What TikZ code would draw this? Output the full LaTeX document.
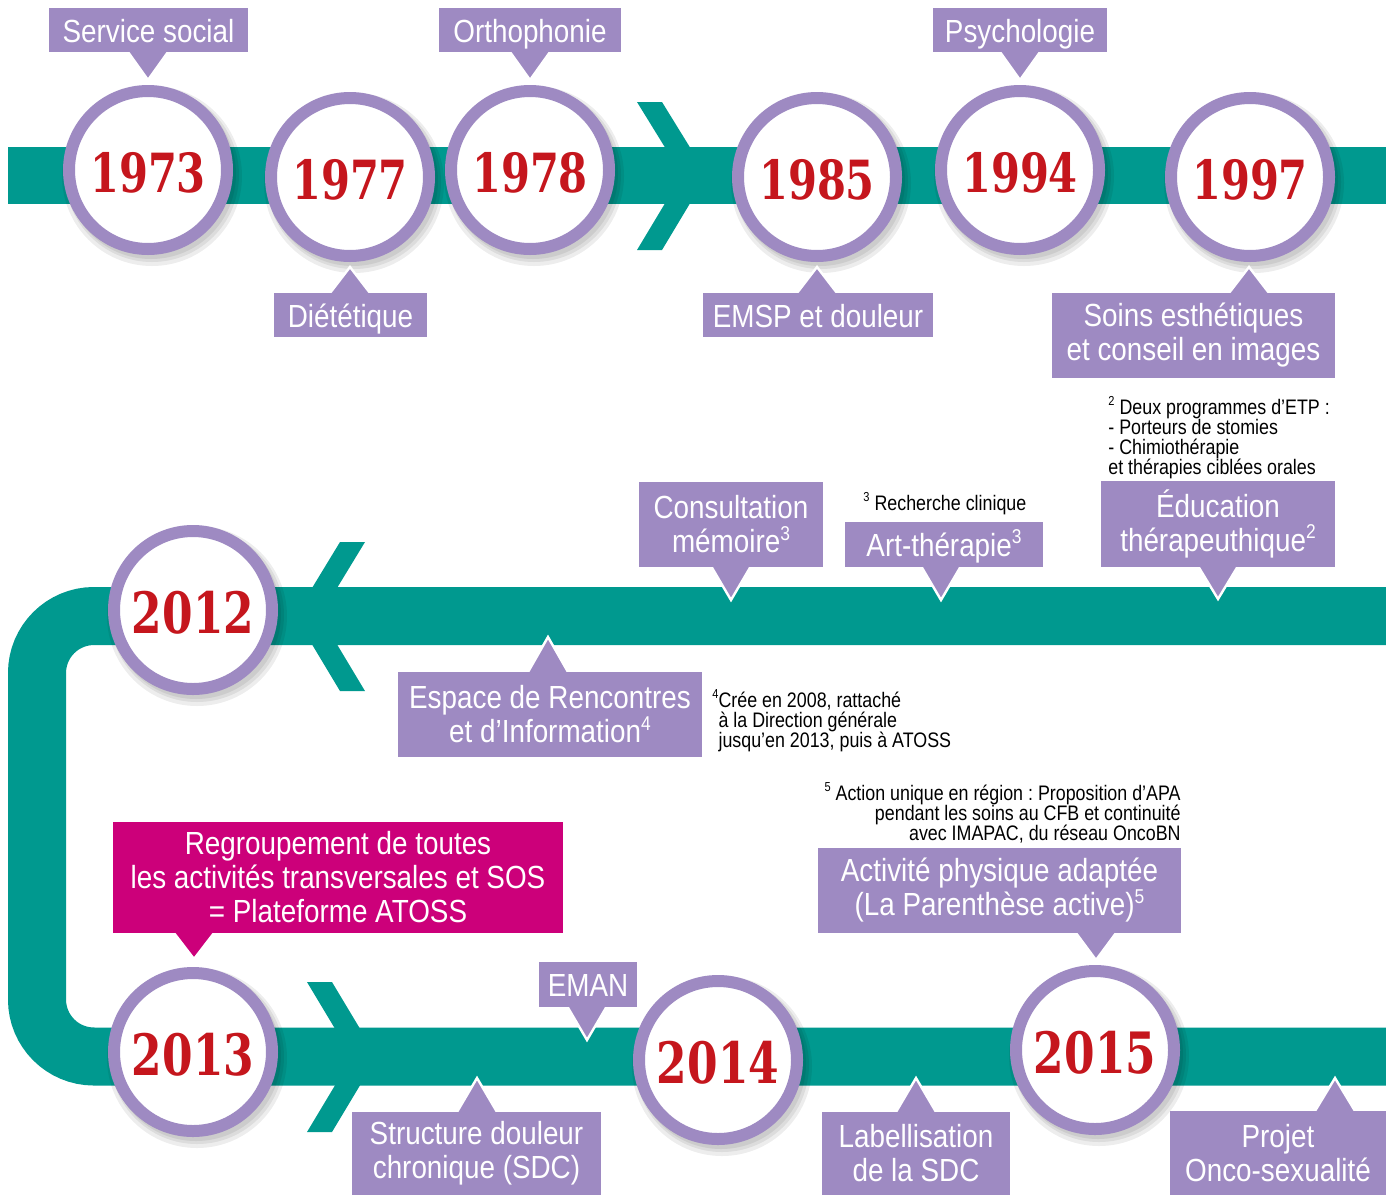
\documentclass[tikz,border=0pt]{standalone}
\usepackage{fontspec}
\setmainfont{Liberation Sans}
\newfontfamily\lblfam[FakeStretch=0.87]{Liberation Sans}
\newfontfamily\notefam[FakeStretch=0.85]{Liberation Sans}
\newfontfamily\yearfam[FakeStretch=0.77]{DejaVu Serif}
\frenchspacing
\definecolor{teal1}{HTML}{00998F}
\definecolor{lav}{HTML}{9E8AC2}
\definecolor{yred}{HTML}{C5161D}
\definecolor{magen}{HTML}{CC007A}
\newcommand\lsup[1]{\raisebox{0.75ex}{\fontsize{10}{10}\selectfont #1}}
\newcommand\fsup[1]{\raisebox{0.8ex}{\fontsize{6.5}{6.5}\selectfont #1}}
\tikzset{
  band/.style={fill=teal1},
  bandline/.style={draw=teal1, line width=29pt, rounded corners=28.5pt},
  ring/.style={draw=lav, fill=white, line width=6pt},
  ringshadow/.style={fill=black, opacity=0.07},
  lblbox/.style={fill=lav},
  magbox/.style={fill=magen},
  lbltext/.style={text=white, font=\lblfam\fontsize{16}{17}\selectfont, align=center, inner sep=0pt},
  oneline/.style={text height=14pt, text depth=2pt},
  ptredge/.style={draw=white, line width=1.2pt, line join=miter},
  yeartext/.style={text=yred, inner sep=0pt},
  fnote/.style={text=black, font=\notefam\fontsize{10.5}{10}\selectfont, inner sep=0pt},
}
% year circle: [size]{name}{x}{y}{text}
\newcommand\Year[5][27]{%
  \fill[ringshadow] ({#3+4},{#4+6}) circle (45pt);
  \fill[ringshadow] ({#3+4},{#4+5}) circle (43.5pt);
  \fill[ringshadow] ({#3+3},{#4+4}) circle (42.5pt);
  \draw[ring] (#3,#4) circle (39.5pt);
  \node[yeartext, font=\yearfam\bfseries\fontsize{#1}{#1}\selectfont] (#2) at (#3,{#4+3}) {#5};}
% pointer: [colour]{base x}{base y}{tip x}{tip y}
\newcommand\Ptr[5][lav]{%
  \fill[#1] ({#2-20},#3) -- (#4,#5) -- ({#2+20},#3) -- cycle;
  \draw[ptredge] ({#2-20},#3) -- (#4,#5) -- ({#2+20},#3);}
% label box: [extra]{name}{style}{x1}{y1}{x2}{y2}{text}
\newcommand\LBox[8][]{%
  \fill[#3] (#4,#5) rectangle (#6,#7);
  \node[lbltext,#1] (#2) at ({(#4+#6)/2},{(#5+#7)/2}) {#8};}
\begin{document}
\begin{tikzpicture}[x=0.5pt,y=-0.5pt]
\useasboundingbox (0,0) rectangle (1386,1195);
\fill[white] (0,0) rectangle (1386,1195);

% bands
\fill[band] (8,147) rectangle (1386,204);
\draw[bandline] (1386,616) -- (37,616) -- (37,1056.5) -- (1386,1056.5);

% chevrons
\fill[band] (637,102) -- (662,102) -- (707,175) -- (662,250) -- (637,250) -- (682,175) -- cycle;
\fill[band] (365,542) -- (340,542) -- (295,616) -- (340,691) -- (365,691) -- (320,616) -- cycle;
\fill[band] (307,982) -- (332,982) -- (377,1057) -- (332,1132) -- (307,1132) -- (352,1057) -- cycle;

% years
\Year{y73}{148}{170}{1973}
\Year{y77}{350}{177}{1977}
\Year{y78}{530}{170}{1978}
\Year{y85}{817}{177}{1985}
\Year{y94}{1020}{170}{1994}
\Year{y97}{1250}{177}{1997}
\Year[28.5]{y12}{193}{610}{2012}
\Year[28.5]{y13}{193}{1052}{2013}
\Year[28.5]{y14}{718}{1060}{2014}
\Year[28.5]{y15}{1095}{1050}{2015}

% top labels
\Ptr{148}{52}{148}{80}
\LBox[oneline]{ss}{lblbox}{49}{8}{248}{52}{Service social}
\Ptr{530}{52}{530}{80}
\LBox[oneline]{or}{lblbox}{439}{8}{621}{52}{Orthophonie}
\Ptr{1020}{52}{1020}{80}
\LBox[oneline]{ps}{lblbox}{933}{8}{1107}{52}{Psychologie}
\Ptr{350}{293}{350}{267}
\LBox[oneline]{di}{lblbox}{274}{293}{427}{337}{Diététique}
\Ptr{817}{293}{817}{267}
\LBox[oneline]{em}{lblbox}{703}{293}{933}{337}{EMSP et douleur}
\Ptr{1249}{293}{1249}{267}
\LBox{so}{lblbox}{1052}{293}{1335}{378}{Soins esthétiques\\et conseil en images}

% middle labels
\Ptr{731}{566}{731}{600}
\LBox{cm}{lblbox}{639}{482}{823}{567}{Consultation\\mémoire\lsup{3}}
\Ptr{941}{566}{941}{600}
\LBox[oneline]{at}{lblbox}{845}{522}{1043}{567}{Art-thérapie\lsup{3}}
\Ptr{1218}{566}{1218}{599}
\LBox{ed}{lblbox}{1101}{481}{1335}{567}{Éducation\\thérapeuthique\lsup{2}}
\Ptr{548}{672}{548}{637}
\LBox{es}{lblbox}{398}{672}{702}{757}{Espace de Rencontres\\et d’Information\lsup{4}}

% bottom labels
\Ptr[magen]{194}{933}{194}{959}
\LBox{rg}{magbox}{113}{822}{563}{933}{Regroupement de toutes\\les activités transversales et SOS\\= Plateforme ATOSS}
\Ptr{1096}{933}{1096}{960}
\LBox{ap}{lblbox}{818}{848}{1181}{933}{Activité physique adaptée\\(La Parenthèse active)\lsup{5}}
\Ptr{587}{1006}{587}{1040}
\LBox[oneline]{ea}{lblbox}{539}{962}{637}{1007}{EMAN}
\Ptr{477}{1112}{477}{1078}
\LBox{sd}{lblbox}{352}{1112}{601}{1195}{Structure douleur\\chronique (SDC)}
\Ptr{916}{1112}{916}{1078}
\LBox{lb}{lblbox}{822}{1112}{1010}{1195}{Labellisation\\de la SDC}
\Ptr{1335}{1111}{1335}{1078}
\LBox{pj}{lblbox}{1170}{1111}{1386}{1195}{Projet\\Onco-sexualité}

% footnotes
\node[fnote, anchor=north west, align=left] (fn2) at (1108,396)
  {\fsup{2} Deux programmes d’ETP :\\- Porteurs de stomies\\- Chimiothérapie\\et thérapies ciblées orales};
\node[fnote, anchor=west] (fn3) at (863,504) {\fsup{3} Recherche clinique};
\node[fnote, anchor=north west, align=left] (fn4) at (712,689)
  {\fsup{4}Crée en 2008, rattaché\\\hphantom{\fsup{4}}à la Direction générale\\\hphantom{\fsup{4}}jusqu’en 2013, puis à ATOSS};
\node[fnote, anchor=north east, align=right] (fn5) at (1181,782)
  {\fsup{5} Action unique en région : Proposition d’APA\\pendant les soins au CFB et continuité\\avec IMAPAC, du réseau OncoBN};
\end{tikzpicture}
\end{document}
